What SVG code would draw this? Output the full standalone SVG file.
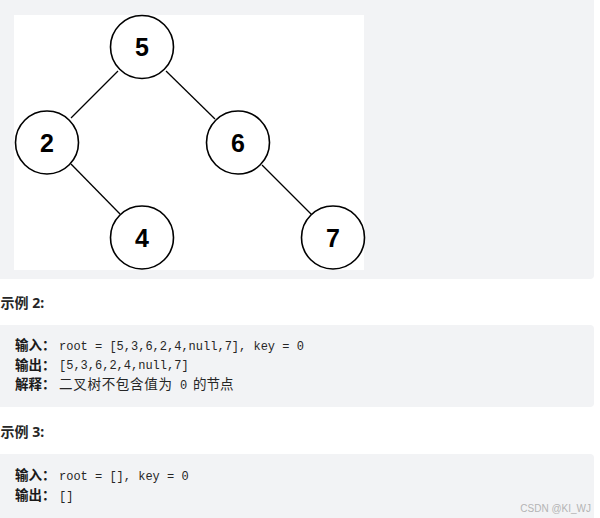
<svg xmlns="http://www.w3.org/2000/svg" width="600" height="518" viewBox="0 0 600 518">
<style>
.panel{fill:#f2f3f5}
.node circle{fill:#fff;stroke:#000;stroke-width:1.6}
.node text{font-family:"Liberation Sans",Arial,sans-serif;font-weight:bold;font-size:25px;fill:#000;text-anchor:middle}
.edges line{stroke:#000;stroke-width:1.3}
.h{font-family:"Noto Sans","Noto Sans CJK SC",sans-serif;font-weight:bold;font-size:14px;fill:#262626}
.lab{font-family:"Noto Sans CJK SC",sans-serif;font-weight:bold;font-size:13.5px;fill:#1a1a1a}
.cn{font-family:"Noto Sans CJK SC",sans-serif;font-size:13.5px;fill:#262626}
.mono{font-family:"Liberation Mono","DejaVu Sans Mono",monospace;font-size:12px;fill:#262626}
.wm{font-family:"Liberation Sans",Arial,sans-serif;font-size:10px;fill:#b4b4b4;text-anchor:end}
</style>
<rect width="600" height="518" fill="#fff"/>
<rect class="panel" x="-6" y="-6" width="600" height="285" rx="4"/>
<rect x="14" y="15" width="350" height="255" fill="#fff"/>
<g class="edges">
<line x1="118" y1="71" x2="71" y2="118"/>
<line x1="166" y1="71" x2="215" y2="119"/>
<line x1="71" y1="164" x2="120" y2="214"/>
<line x1="262" y1="165" x2="312" y2="215"/>
</g>
<g id="n5" class="node"><circle cx="142" cy="47" r="31.5"/><text x="142" y="56">5</text></g>
<g id="n2" class="node"><circle cx="47" cy="142.5" r="31.5"/><text x="47" y="151.5">2</text></g>
<g id="n6" class="node"><circle cx="238" cy="142.5" r="31.5"/><text x="238" y="151.5">6</text></g>
<g id="n4" class="node"><circle cx="142" cy="237.5" r="31.5"/><text x="142" y="246.5">4</text></g>
<g id="n7" class="node"><circle cx="333" cy="237.5" r="31.5"/><text x="333" y="246.5">7</text></g>
<text class="h" x="0.5" y="307.5">示例 2:</text>
<rect class="panel" x="-6" y="325" width="600" height="82" rx="4"/>
<text class="lab" x="15" y="350">输入：</text>
<text class="mono" x="59" y="349.5">root = [5,3,6,2,4,null,7], key = 0</text>
<text class="lab" x="15" y="369.5">输出：</text>
<text class="mono" x="59" y="369">[5,3,6,2,4,null,7]</text>
<text class="lab" x="15" y="389">解释：</text>
<text class="cn" x="59" y="389" textLength="113">二叉树不包含值为</text>
<text class="mono" x="180" y="388.5">0</text>
<text class="cn" x="193" y="389">的节点</text>
<text class="h" x="0.5" y="436.5">示例 3:</text>
<rect class="panel" x="-6" y="454" width="600" height="70" rx="4"/>
<text class="lab" x="15" y="480">输入：</text>
<text class="mono" x="59" y="479.5">root = [], key = 0</text>
<text class="lab" x="15" y="500">输出：</text>
<text class="mono" x="59" y="499.5">[]</text>
<text class="wm" x="591" y="512">CSDN @KI_WJ</text>
</svg>
